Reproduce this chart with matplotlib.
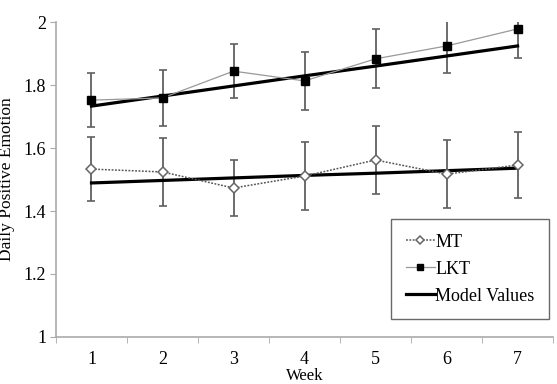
import matplotlib.pyplot as plt
import numpy as np

weeks = [1, 2, 3, 4, 5, 6, 7]
mt = [1.533, 1.524, 1.473, 1.511, 1.562, 1.517, 1.546]
mt_err = [0.102, 0.108, 0.090, 0.108, 0.108, 0.107, 0.105]
lkt = [1.752, 1.759, 1.844, 1.813, 1.883, 1.924, 1.978]
lkt_err = [0.086, 0.089, 0.086, 0.092, 0.094, 0.086, 0.093]
model_mt = [1.489, 1.497, 1.505, 1.513, 1.520, 1.528, 1.536]
model_lkt = [1.733, 1.765, 1.797, 1.829, 1.860, 1.892, 1.924]

plt.rcParams['font.family'] = ['Liberation Serif', 'DejaVu Serif']

fig = plt.figure(figsize=(5.57, 3.84), dpi=100)
ax = fig.add_axes([0.1005, 0.1224, 0.8925, 0.8203])

gray = '#606060'
ax.errorbar(weeks, mt, yerr=mt_err, fmt='none', ecolor=gray, elinewidth=1.3, capsize=3, capthick=1.2, zorder=2)
ax.errorbar(weeks, lkt, yerr=lkt_err, fmt='none', ecolor=gray, elinewidth=1.3, capsize=3, capthick=1.2, zorder=2)

ax.plot(weeks, mt, linestyle=(0, (1.2, 1)), color='#555555', lw=1.1, marker='D', ms=4.8,
        mfc='white', mec='#666666', mew=1.1, label='MT', zorder=4)
ax.plot(weeks, lkt, linestyle='-', color='#999999', lw=0.9, marker='s', ms=5.8,
        mfc='black', mec='black', label='LKT', zorder=4)
ax.plot(weeks, model_lkt, color='black', lw=2.3, label='Model Values', zorder=3)
ax.plot(weeks, model_mt, color='black', lw=2.3, zorder=3)

ax.set_xlim(0.5, 7.5)
ax.set_ylim(1, 2)
ax.set_yticks([1, 1.2, 1.4, 1.6, 1.8, 2])
ax.set_yticklabels(['1', '1.2', '1.4', '1.6', '1.8', '2'])
ax.set_xticks(weeks)
ax.set_xticks(np.arange(0.5, 7.6, 1), minor=True)
ax.tick_params(axis='x', which='major', length=0, labelsize=13, pad=10)
ax.tick_params(axis='x', which='minor', length=4, color='#aaaaaa', direction='out')
ax.tick_params(axis='y', length=4, color='#aaaaaa', labelsize=13, pad=3)

for s in ['top', 'right']:
    ax.spines[s].set_visible(False)
for s in ['left', 'bottom']:
    ax.spines[s].set_color('#aaaaaa')
    ax.spines[s].set_linewidth(1.2)

ax.set_xlabel('Week', fontsize=12, labelpad=0)
ax.set_ylabel('Daily Positive Emotion', fontsize=12.5, labelpad=6)

leg = ax.legend(loc='lower right', bbox_to_anchor=(0.992, 0.057), fontsize=13,
                frameon=True, fancybox=False, edgecolor='#444444', handlelength=1.6,
                handletextpad=0.05, borderpad=0.8, labelspacing=0.55, markerscale=0.8,
                borderaxespad=0)
leg.get_frame().set_linewidth(1.0)

fig.savefig('out.png', dpi=100)
